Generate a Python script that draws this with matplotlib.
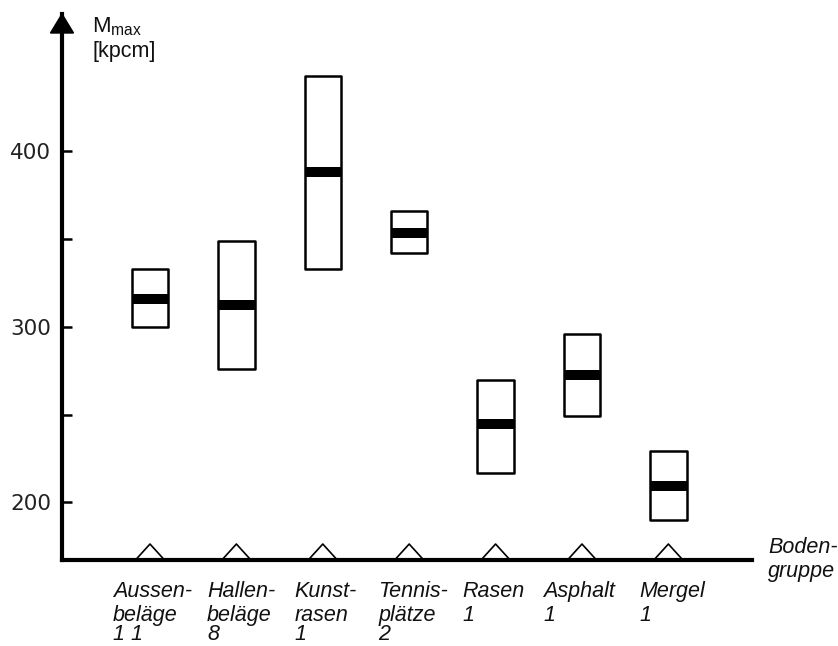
import numpy as np
import matplotlib.pyplot as plt
from matplotlib.patches import Rectangle, Polygon
from matplotlib.transforms import blended_transform_factory

plt.rcParams['font.family'] = ['Liberation Sans', 'DejaVu Sans']
plt.rcParams['mathtext.fontset'] = 'custom'
plt.rcParams['mathtext.rm'] = 'Liberation Sans'

# values
groups = ["Aussen-\nbeläge", "Hallen-\nbeläge", "Kunst-\nrasen", "Tennis-\nplätze",
          "Rasen", "Asphalt", "Mergel"]
counts = [11, 8, 1, 2, 1, 1, 1]
upper = [333, 349, 443, 366, 270, 296, 229.5]
lower = [300, 276, 333, 342, 217, 249, 190]
median = [316, 312.5, 388, 353.5, 244.5, 272.5, 209.5]

# layout
label_dx = [-0.43, -0.34, -0.33, -0.36, -0.38, -0.45, -0.34]
line_y = [-0.068, -0.111, -0.1555]   # axes fraction of the label lines
box_w = 0.42
tri_hw, tri_h = 0.168, 9.1
x = np.arange(1, len(groups) + 1)

fig = plt.figure(figsize=(8.38, 6.46), dpi=100)
ax = fig.add_axes([62 / 838, 86 / 646, 690 / 838, 546 / 646])
ax.set_xlim(-0.0185, 7.968)
ax.set_ylim(167.2, 478.3)
y0 = ax.get_ylim()[0]

for s in ['top', 'right']:
    ax.spines[s].set_visible(False)
for s in ['left', 'bottom']:
    ax.spines[s].set_linewidth(3)
    ax.spines[s].set_capstyle('projecting')

ax.set_xticks([])
ax.set_yticks([200, 300, 400])
ax.set_yticks([250, 350], minor=True)
ax.tick_params(axis='y', which='both', direction='in', length=7.5, width=1.8,
               pad=8, labelsize=15.5)
for t in ax.get_yticklabels():
    t.set_fontfamily('DejaVu Sans')
    t.set_color('#222222')

# arrow head on the y axis
ax.add_patch(Polygon([(-0.0167, 0.9652), (0.0167, 0.9652), (0, 1.0)],
                     closed=True, transform=ax.transAxes, clip_on=False,
                     color='black', zorder=5))

# boxes with median bars
for xi, lo, hi, med in zip(x, lower, upper, median):
    ax.add_patch(Rectangle((xi - box_w / 2, lo), box_w, hi - lo, facecolor='white',
                           edgecolor='black', lw=1.8, joinstyle='round', zorder=3))
    ax.hlines(med, xi - box_w / 2, xi + box_w / 2, colors='black', lw=7.2,
              zorder=4)
    # open triangle sitting on the x axis
    ax.plot([xi - tri_hw, xi, xi + tri_hw], [y0, y0 + tri_h, y0], color='black',
            lw=1.2, clip_on=False, zorder=4)

# group labels below the axis, one text per line
trans = blended_transform_factory(ax.transData, ax.transAxes)
for xi, dx, g, n in zip(x, label_dx, groups, counts):
    lines = g.split("\n") + [" ".join(str(n)) if n > 9 else str(n)]
    for j, line in enumerate(lines):
        ax.text(xi + dx, line_y[j], line, transform=trans, ha='left',
                va='bottom' if j == 2 else 'baseline',
                fontsize=15.5, style='italic', color='#111111')

fig.text(768 / 838, 1 - 537 / 646, "Boden-\ngruppe", ha='left', va='top',
         fontsize=15.5, style='italic', linespacing=1.18, color='#111111')
fig.text(92 / 838, 1 - 15 / 646, "M$_{\\mathrm{max}}$", ha='left', va='top',
         fontsize=16, color='#111111')
fig.text(92 / 838, 1 - 41 / 646, "[kpcm]", ha='left', va='top',
         fontsize=15.5, color='#111111')

fig.savefig('out.png', dpi=100)
